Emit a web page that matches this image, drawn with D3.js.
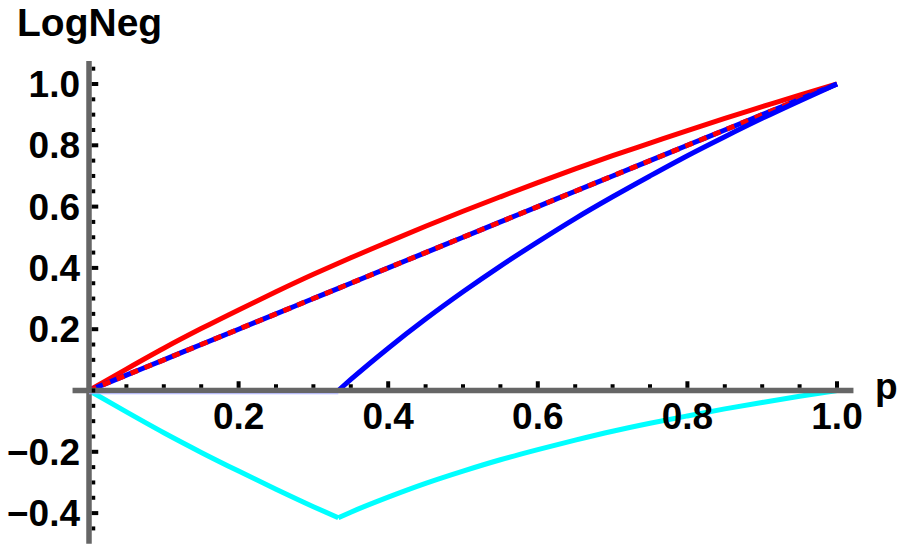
<html>
<head>
<meta charset="utf-8">
<title>LogNeg vs p</title>
<style type="text/css">
  body { margin: 0; background: #fff; }
  text { font-family: "Liberation Sans", Arial, sans-serif; font-weight: bold; fill: #000; }
</style>
<script src="https://cdn.jsdelivr.net/npm/d3@7"></script>
</head>
<body>
<svg id="chart" width="908" height="549"></svg>
<script type="text/javascript">

// sample points along p (index 7 is the kink at p = 1/3)
var pVals = [0, 0.05, 0.1, 0.15, 0.2, 0.25, 0.3, 0.3333, 0.35, 0.4, 0.45, 0.5,
             0.55, 0.6, 0.65, 0.7, 0.75, 0.8, 0.85, 0.9, 0.95, 1.0];
var kink = 7;

// red solid (upper curve)
var redVals = [0, 0.070, 0.138, 0.202, 0.263, 0.322, 0.379, 0.415, 0.433, 0.485, 0.536, 0.585,
               0.632, 0.678, 0.723, 0.766, 0.807, 0.848, 0.888, 0.926, 0.964, 1.0];

// straight line (blue under red dashes)
var diagVals = [0, 0.05, 0.1, 0.15, 0.2, 0.25, 0.3, 0.3333, 0.35, 0.4, 0.45, 0.5,
                0.55, 0.6, 0.65, 0.7, 0.75, 0.8, 0.85, 0.9, 0.95, 1.0];

// blue solid, zero until p = 1/3
var blueVals = [0, 0, 0, 0, 0, 0, 0, 0, 0.036, 0.138, 0.233, 0.322,
                0.406, 0.485, 0.561, 0.632, 0.700, 0.766, 0.828, 0.888, 0.945, 1.0];

// cyan, dips below zero
var cyanVals = [0, -0.070, -0.138, -0.202, -0.263, -0.322, -0.379, -0.415, -0.397, -0.348, -0.303, -0.263,
                -0.226, -0.193, -0.162, -0.133, -0.107, -0.083, -0.060, -0.039, -0.019, 0];

var xTicks = [0.2, 0.4, 0.6, 0.8, 1.0];
var yTicks = [-0.4, -0.2, 0.2, 0.4, 0.6, 0.8, 1.0];

var svg = d3.select("#chart");

var x = d3.scaleLinear().domain([0, 1]).range([89, 837]);
var y = d3.scaleLinear().domain([0, 1]).range([390.5, 84]);

var line = d3.line()
  .x(function(d) { return x(d[0]); })
  .y(function(d) { return y(d[1]); })
  .curve(d3.curveMonotoneX);

// smooth on each side of the kink, keep the corner sharp
function pathFor(vals) {
  var pts = pVals.map(function(p, i) { return [p, vals[i]]; });
  return line(pts.slice(0, kink + 1)) + line(pts.slice(kink));
}

var lw = 5;
var curves = svg.append("g").attr("fill", "none").attr("stroke-linejoin", "miter");

curves.append("path").attr("d", pathFor(cyanVals))
  .attr("stroke", "#00ffff").attr("stroke-width", lw);

curves.append("path").attr("d", pathFor(redVals))
  .attr("stroke", "#ff0000").attr("stroke-width", lw);

curves.append("path").attr("d", pathFor(diagVals))
  .attr("stroke", "#0000ff").attr("stroke-width", lw);

curves.append("path").attr("d", pathFor(diagVals))
  .attr("stroke", "#ff0000").attr("stroke-width", lw)
  .attr("stroke-dasharray", "8,7");

curves.append("path").attr("d", pathFor(blueVals))
  .attr("stroke", "#0000ff").attr("stroke-width", lw);

// axes lines
var axisW = 5.5;
svg.append("line")
  .attr("x1", x(-0.022)).attr("x2", x(1.022))
  .attr("y1", y(0)).attr("y2", y(0))
  .attr("stroke", "#666").attr("stroke-width", axisW);

svg.append("line")
  .attr("x1", x(0)).attr("x2", x(0))
  .attr("y1", y(-0.5)).attr("y2", y(1.075))
  .attr("stroke", "#666").attr("stroke-width", axisW);

// thin edge of the blue flat part showing under the axis
svg.append("line")
  .attr("x1", x(0)).attr("x2", x(pVals[kink]))
  .attr("y1", y(0) + axisW / 2 + 0.5).attr("y2", y(0) + axisW / 2 + 0.5)
  .attr("stroke", "#aab0ff").attr("stroke-width", 1);

// tick marks: minor every 0.05, major every 0.2
var xMinor = d3.range(1, 21).map(function(i) { return i * 0.05; });
var yMinor = d3.range(-9, 22).map(function(i) { return i * 0.05; });

function isMajor(v) {
  return Math.abs(v * 5 - Math.round(v * 5)) < 1e-6 && Math.abs(v) > 1e-6;
}

var ticks = svg.append("g").attr("stroke", "#000").attr("stroke-width", 4);

ticks.selectAll(".xt").data(xMinor).enter().append("line")
  .attr("class", "xt")
  .attr("x1", function(d) { return x(d); })
  .attr("x2", function(d) { return x(d); })
  .attr("y1", y(0) - axisW / 2)
  .attr("y2", function(d) { return y(0) - axisW / 2 - (isMajor(d) ? 6.5 : 3.5); });

ticks.selectAll(".yt").data(yMinor).enter().append("line")
  .attr("class", "yt")
  .attr("y1", function(d) { return y(d); })
  .attr("y2", function(d) { return y(d); })
  .attr("x1", x(0) + axisW / 2)
  .attr("x2", function(d) { return x(0) + axisW / 2 + (isMajor(d) ? 6.5 : 3.5); });

// tick labels
var fs = 37;
svg.selectAll(".xl").data(xTicks).enter().append("text")
  .attr("class", "xl")
  .attr("x", function(d) { return x(d); })
  .attr("y", y(0) + 38.5)
  .attr("text-anchor", "middle")
  .style("font-size", fs + "px")
  .text(function(d) { return d.toFixed(1); });

svg.selectAll(".yl").data(yTicks).enter().append("text")
  .attr("class", "yl")
  .attr("x", 80)
  .attr("y", function(d) { return y(d) + 13; })
  .attr("text-anchor", "end")
  .style("font-size", fs + "px")
  .text(function(d) { return d < 0 ? "\u2212" + (-d).toFixed(1) : d.toFixed(1); });

// axis titles
svg.append("text").attr("x", 875).attr("y", 399)
  .style("font-size", fs + "px").text("p");

svg.append("text").attr("x", 17).attr("y", 35.5)
  .style("font-size", "39px").text("LogNeg");

</script>
</body>
</html>
